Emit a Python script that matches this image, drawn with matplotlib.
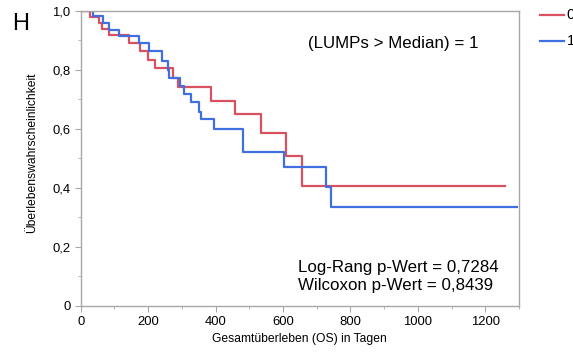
import matplotlib
matplotlib.use("Agg")
import matplotlib.pyplot as plt
from matplotlib.lines import Line2D
from matplotlib.ticker import MultipleLocator, FuncFormatter

plt.rcParams['font.family'] = ['Liberation Sans', 'DejaVu Sans']

# Kaplan-Meier step data (time in days, survival probability)
red_t = [0, 29, 53, 62, 83, 142, 177, 200, 219, 273, 288, 385, 459, 534, 608, 655, 1258]
red_s = [1.0, 0.981, 0.958, 0.938, 0.917, 0.892, 0.863, 0.833, 0.805, 0.774, 0.743, 0.695, 0.649, 0.585, 0.508, 0.406, 0.406]

blue_t = [0, 37, 66, 83, 113, 172, 202, 240, 258, 262, 296, 305, 327, 350, 357, 395, 481, 602, 727, 742, 1293]
blue_s = [1.0, 0.982, 0.959, 0.937, 0.914, 0.891, 0.863, 0.832, 0.801, 0.774, 0.745, 0.718, 0.692, 0.658, 0.632, 0.599, 0.523, 0.471, 0.404, 0.336, 0.336]

group_labels = ["0", "1"]
x_ticks = [0, 200, 400, 600, 800, 1000, 1200]
y_ticks = [0, 0.2, 0.4, 0.6, 0.8, 1.0]
subtitle = "(LUMPs > Median) = 1"
stats_lines = ["Log-Rang p-Wert = 0,7284", "Wilcoxon p-Wert = 0,8439"]

red = "#d9505e"
blue = "#3f6fe0"
gray = "#a8a8a8"

W, H = 573, 352
fig = plt.figure(figsize=(W / 100, H / 100), dpi=100)
ax = fig.add_axes([80.7 / W, 1 - 305.7 / H, (519 - 80.7) / W, (305.7 - 11) / H])

ax.step(red_t, red_s, where="post", color=red, lw=1.6)
ax.step(blue_t, blue_s, where="post", color=blue, lw=1.6)

ax.set_xlim(0, 1300)
ax.set_ylim(0, 1.0)
ax.set_xticks(x_ticks)
ax.set_yticks(y_ticks)
ax.xaxis.set_minor_locator(MultipleLocator(100))
ax.yaxis.set_minor_locator(MultipleLocator(0.1))

def yfmt(v, pos):
    if abs(v) < 1e-9:
        return "0"
    return f"{v:.1f}".replace(".", ",")
ax.yaxis.set_major_formatter(FuncFormatter(yfmt))

for s in ax.spines.values():
    s.set_color(gray)
    s.set_linewidth(1.0)
ax.tick_params(which="major", length=4.3, color=gray, labelsize=9.4, pad=3)
ax.tick_params(which="minor", length=2.2, color=gray)

ax.set_xlabel("Gesamtüberleben (OS) in Tagen", fontsize=8.7, labelpad=4)
ax.set_ylabel("Überlebenswahrscheinlichkeit", fontsize=8.7)
ax.yaxis.set_label_coords(-0.097, 0.52)

def fx(px):
    return px / W

def fy(py):
    return 1 - py / H

fig.text(fx(308), fy(43.3), subtitle, fontsize=12.2, ha="left", va="center")
fig.text(fx(298), fy(267.3), stats_lines[0], fontsize=12.2, ha="left", va="center")
fig.text(fx(298), fy(285.7), stats_lines[1], fontsize=12.2, ha="left", va="center")

fig.text(fx(12.5), fy(23.5), "H", fontsize=17, ha="left", va="center")

# legend (partly cut off at the right edge, as in the reference)
for col, lab, py in [(red, group_labels[0], 14.7), (blue, group_labels[1], 40.7)]:
    fig.add_artist(Line2D([fx(540), fx(564)], [fy(py), fy(py)], color=col, lw=1.6))
    fig.text(fx(566.5), fy(py), lab, fontsize=10.5, ha="left", va="center")

fig.savefig("out.png", dpi=100)
